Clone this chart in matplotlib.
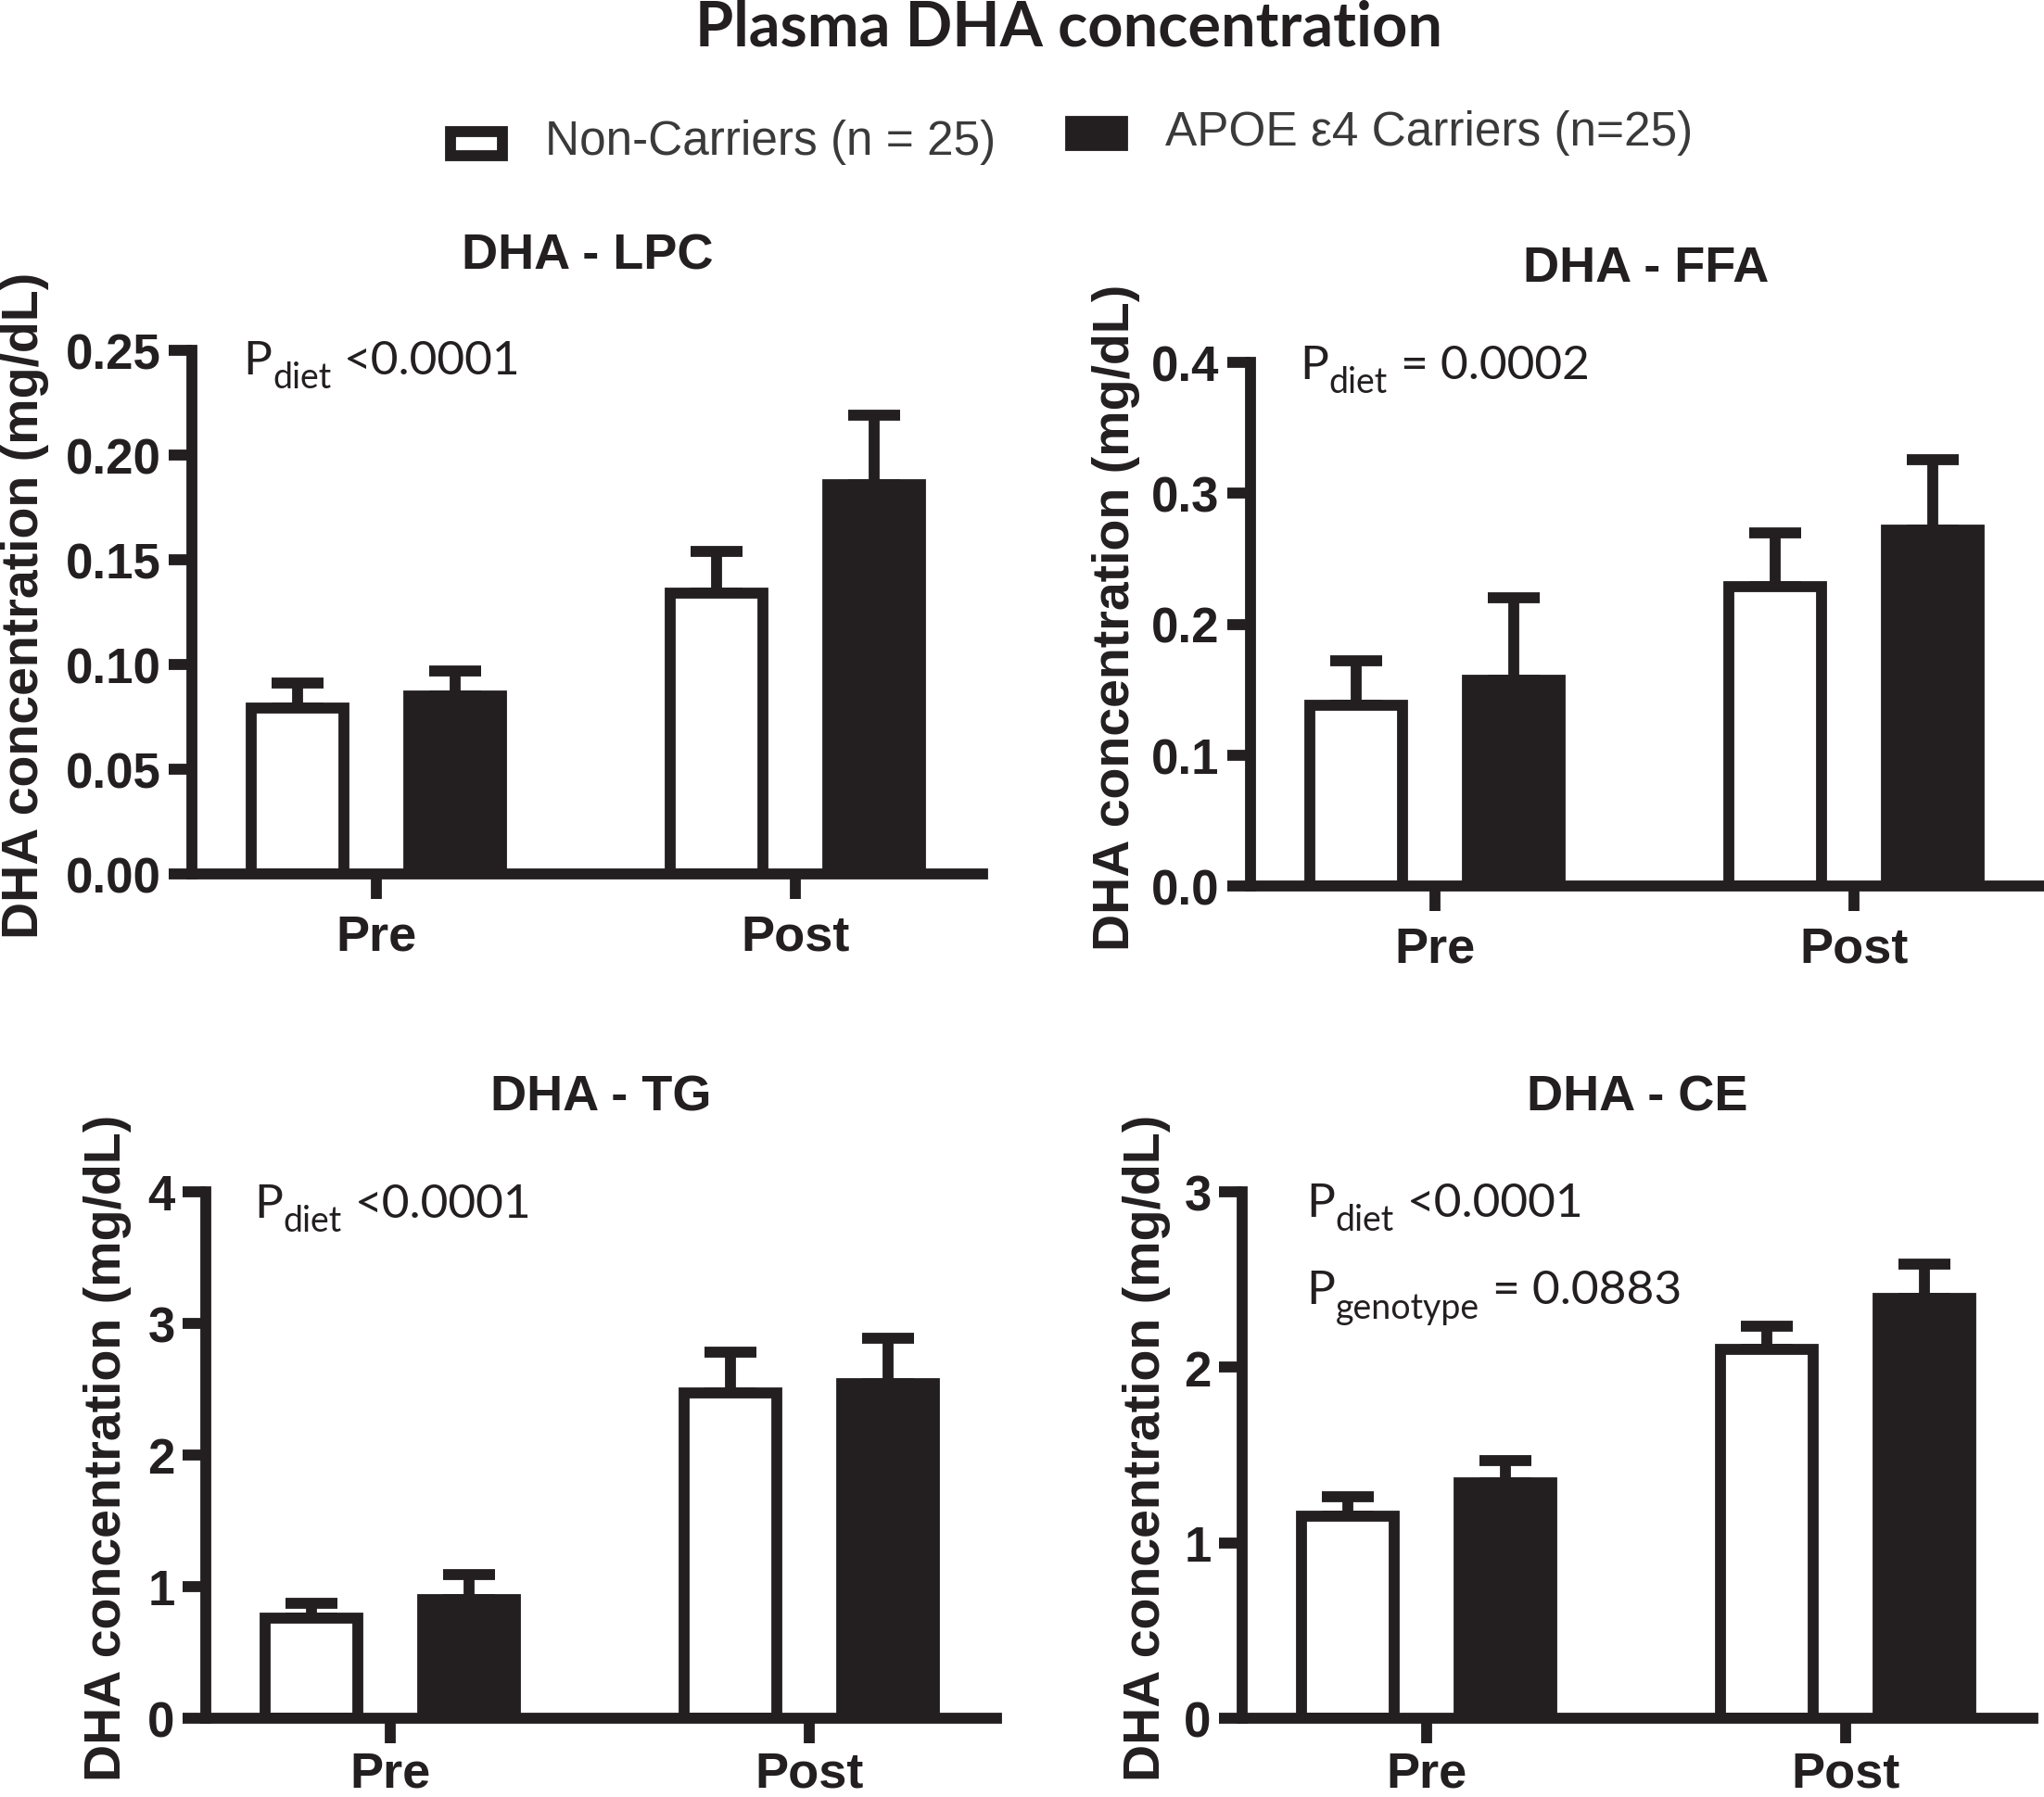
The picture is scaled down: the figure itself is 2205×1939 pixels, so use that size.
import numpy as np
import matplotlib
matplotlib.use('Agg')
import matplotlib.pyplot as plt
from matplotlib.patches import Patch, Rectangle
from matplotlib.legend_handler import HandlerPatch

plt.rcParams['font.family'] = ['Liberation Sans', 'DejaVu Sans']

INK = '#231f20'

groups = ['Pre', 'Post']
series = ['Non-Carriers (n = 25)', 'APOE ε4 Carriers (n=25)']
titles = ['DHA - LPC', 'DHA - FFA', 'DHA - TG', 'DHA - CE']

# mean and upper error (SEM) per panel
lpc_nc = [0.079, 0.134]
lpc_nc_err = [0.012, 0.020]
lpc_ap = [0.085, 0.186]
lpc_ap_err = [0.012, 0.033]

ffa_nc = [0.138, 0.229]
ffa_nc_err = [0.034, 0.041]
ffa_ap = [0.157, 0.272]
ffa_ap_err = [0.063, 0.054]

tg_nc = [0.76, 2.47]
tg_nc_err = [0.11, 0.31]
tg_ap = [0.90, 2.54]
tg_ap_err = [0.19, 0.35]

ce_nc = [1.15, 2.10]
ce_nc_err = [0.11, 0.135]
ce_ap = [1.34, 2.39]
ce_ap_err = [0.13, 0.20]

lpc_ticks = [0.00, 0.05, 0.10, 0.15, 0.20, 0.25]
ffa_ticks = [0.0, 0.1, 0.2, 0.3, 0.4]
tg_ticks = [0, 1, 2, 3, 4]
ce_ticks = [0, 1, 2, 3]

# (subscript, rest of the statement)
lpc_stats = [('diet', '<0.0001')]
ffa_stats = [('diet', '= 0.0002')]
tg_stats = [('diet', '<0.0001')]
ce_stats = [('diet', '<0.0001'), ('genotype', '= 0.0883')]

panels = [
    (lpc_nc, lpc_nc_err, lpc_ap, lpc_ap_err, lpc_ticks, '{:.2f}', lpc_stats),
    (ffa_nc, ffa_nc_err, ffa_ap, ffa_ap_err, ffa_ticks, '{:.1f}', ffa_stats),
    (tg_nc, tg_nc_err, tg_ap, tg_ap_err, tg_ticks, '{:.0f}', tg_stats),
    (ce_nc, ce_nc_err, ce_ap, ce_ap_err, ce_ticks, '{:.0f}', ce_stats),
]

W, H = 2205, 1940
# axes boxes in pixels: left spine x, top y, bottom y
boxes = [(207, 379, 944), (1349, 392, 957), (222, 1287, 1855), (1340, 1287, 1855)]
ylab_x = [-0.211, -0.170, -0.124, -0.121]
stat_xy = [(0.065, 0.956), (0.062, 0.970), (0.061, 0.952), (0.081, 0.954)]
xpad = [11, 11, 5, 5]
lw = 8.5

fig = plt.figure(figsize=(W / 100, H / 100), dpi=100)

x = np.arange(len(groups))
off = 0.188
bw = 0.222

for i, (nc, nc_err, ap, ap_err, ticks, fmt, stats) in enumerate(panels):
    left, top, bottom = boxes[i]
    ax = fig.add_axes([left / W, 1 - bottom / H, 853 / W, (bottom - top) / H])
    ax.bar(x - off, nc, width=bw, color='white', edgecolor=INK, linewidth=lw, zorder=2)
    ax.bar(x + off, ap, width=bw, color=INK, edgecolor=INK, linewidth=lw, zorder=2)
    ax.errorbar(x - off, nc, yerr=[np.zeros(2), nc_err], fmt='none', ecolor=INK,
                elinewidth=lw, capsize=20, capthick=lw, zorder=1.5, clip_on=False)
    ax.errorbar(x + off, ap, yerr=[np.zeros(2), ap_err], fmt='none', ecolor=INK,
                elinewidth=lw, capsize=20, capthick=lw, zorder=1.5, clip_on=False)

    ax.set_xlim(-0.44, 1.447)
    ax.set_ylim(ticks[0], ticks[-1])
    ax.set_yticks(ticks)
    ax.set_yticklabels([fmt.format(t) for t in ticks])
    ax.set_xticks(x)
    ax.set_xticklabels(groups)
    for s in ['top', 'right']:
        ax.spines[s].set_visible(False)
    for s in ['left', 'bottom']:
        ax.spines[s].set_linewidth(lw)
        ax.spines[s].set_color(INK)
        ax.spines[s].set_capstyle('projecting')
    ax.tick_params(axis='y', length=18, width=lw, color=INK, pad=6,
                   labelsize=38, labelcolor=INK)
    ax.tick_params(axis='x', length=19.5, width=lw, color=INK, pad=xpad[i],
                   labelsize=39, labelcolor=INK)
    for lab in ax.get_xticklabels() + ax.get_yticklabels():
        lab.set_fontweight('bold')

    ax.set_ylabel('DHA concentration (mg/dL)', fontsize=40, fontweight='bold', color=INK)
    ax.yaxis.label.set_va('center')
    ax.yaxis.set_label_coords(ylab_x[i], 0.515)

    ax.text(0.5, 1.156, titles[i], transform=ax.transAxes, ha='center', va='baseline',
            fontsize=39, fontweight='bold', color=INK)

    # "P" + lowered subscript + rest, chained one after another
    sx, sy = stat_xy[i]
    for j, (sub, rest) in enumerate(stats):
        p = ax.text(sx, sy - j * 0.166, 'P', transform=ax.transAxes, ha='left',
                    va='baseline', fontsize=37, family='Lato', color=INK)
        s = ax.annotate(sub, xy=(1, 0), xycoords=p, xytext=(0.5, -9.5),
                        textcoords='offset points', ha='left', va='bottom',
                        fontsize=27, family='Lato', color=INK)
        ax.annotate(rest, xy=(1, 0), xycoords=s, xytext=(10, 9.5),
                    textcoords='offset points', ha='left', va='bottom',
                    fontsize=37, family='Lato', color=INK)

fig.text(1153 / W, 1 - 50 / H, 'Plasma DHA concentration', ha='center', va='baseline',
         fontsize=48, fontweight='bold', family='Lato', color=INK)


def low_box(legend, orig_handle, xdescent, ydescent, width, height, fontsize):
    # legend swatch sits a little lower than the text centre, as in the original
    return Rectangle((-xdescent, -ydescent - 5), width, height)


handles = [Patch(facecolor='white', edgecolor=INK, linewidth=lw),
           Patch(facecolor=INK, edgecolor=INK, linewidth=lw)]
anchors = [(486 / W, 1 - 154 / H), (1155 / W, 1 - 143 / H)]
for h, lab, anc in zip(handles, series, anchors):
    fig.legend([h], [lab], loc='center left', bbox_to_anchor=anc, frameon=False,
               fontsize=37, handlelength=1.08, handleheight=0.42, handletextpad=0.9,
               borderpad=0, borderaxespad=0, labelcolor='#3a3a3a',
               handler_map={Patch: HandlerPatch(patch_func=low_box)})

fig.savefig('out.png', dpi=100)
